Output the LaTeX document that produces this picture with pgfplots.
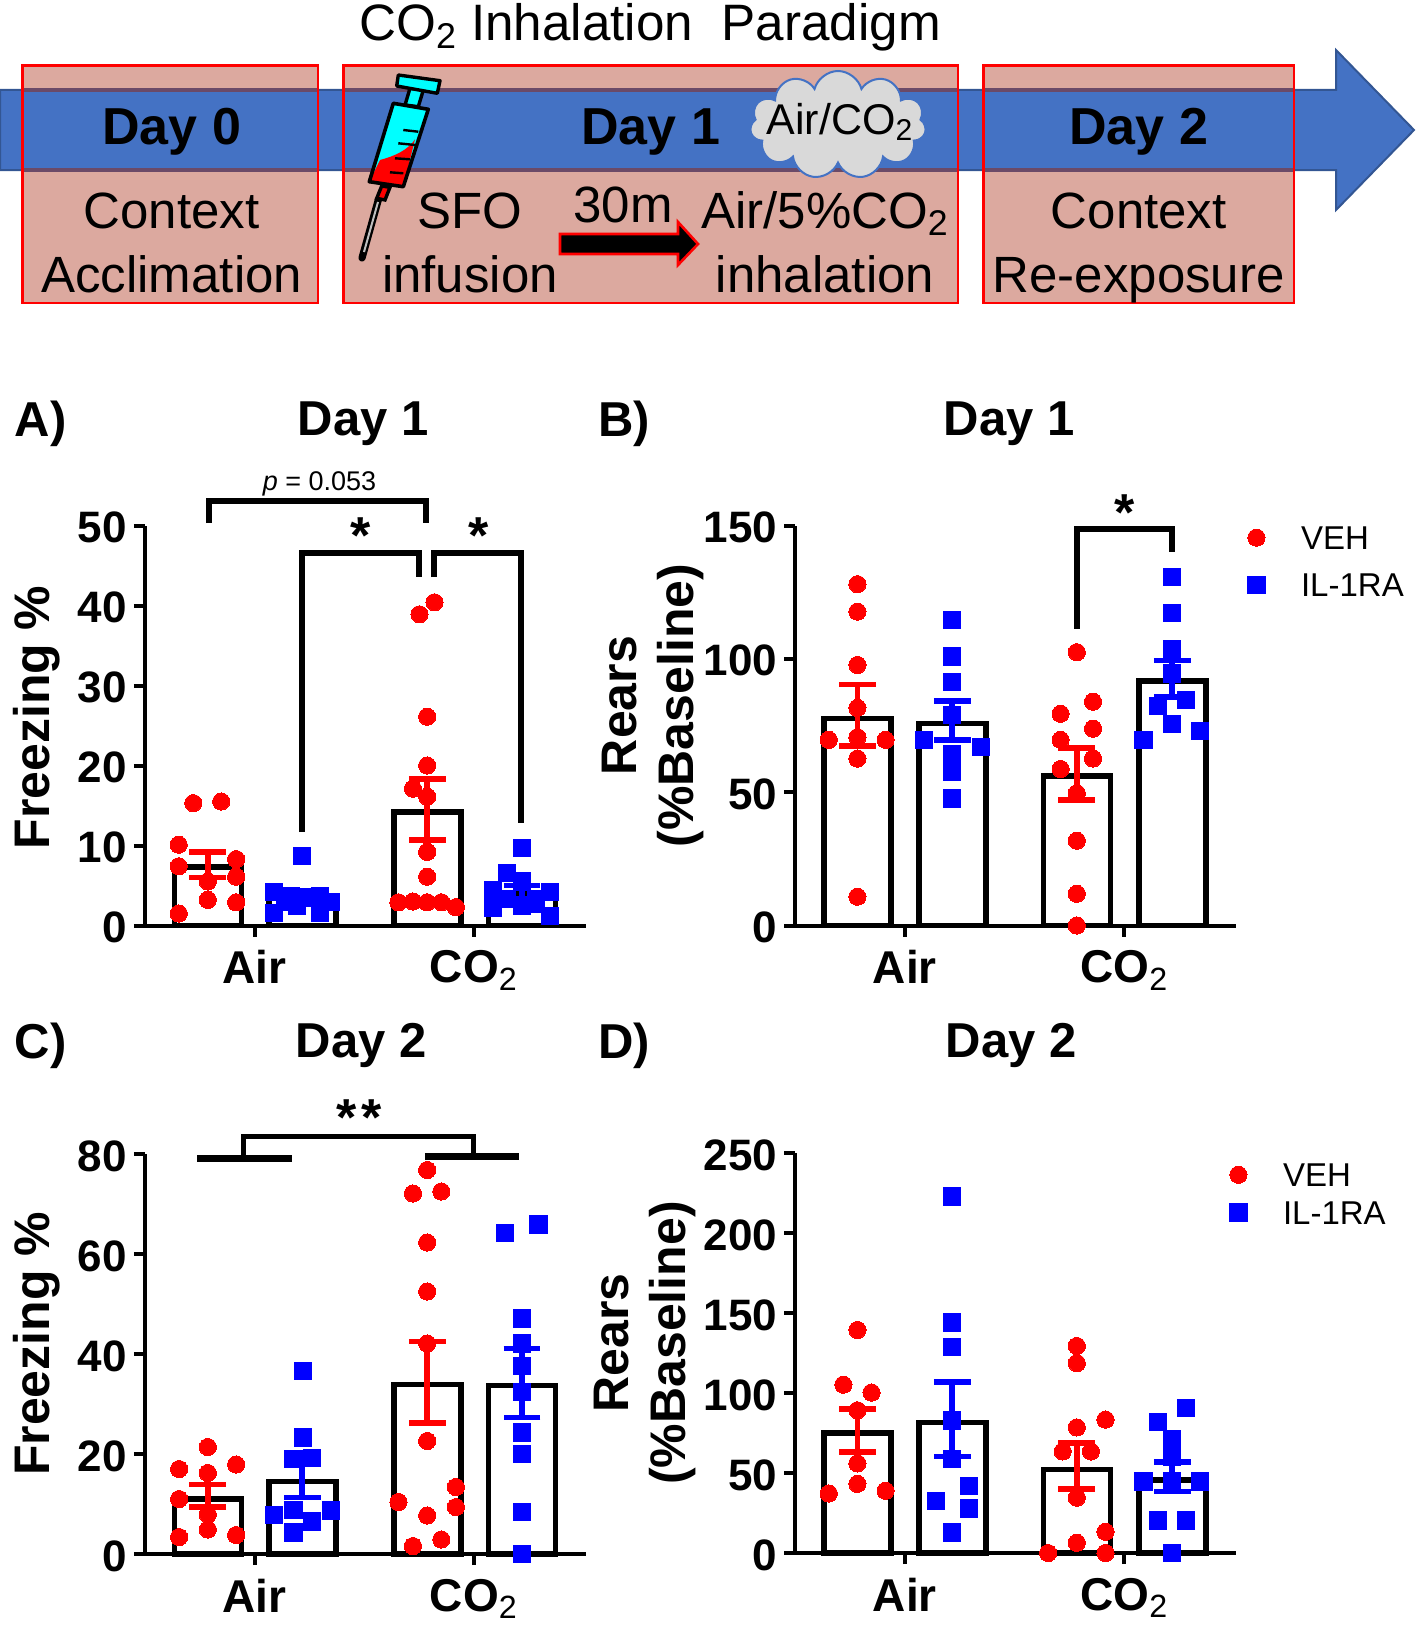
\documentclass[border=0pt]{standalone}
\usepackage{fontspec}
\setmainfont{Liberation Sans}
\usepackage{pgfplots}
\pgfplotsset{compat=1.18}
\usetikzlibrary{shapes.symbols}
\newcommand{\fs}[1]{\fontsize{#1}{#1}\selectfont}
\definecolor{band}{HTML}{4472C4}
\definecolor{pinkbox}{HTML}{DCA99F}
\definecolor{bandedge}{HTML}{6B4A68}
\definecolor{aqua}{HTML}{00FFFF}

\pgfplotsset{
  panel/.style={
    scale only axis, clip=false,
    width=220.3pt, height=200pt,
    anchor=south west,
    axis lines=left,
    axis line style={-, line width=2pt},
    tick style={black, line width=2pt},
    major tick length=5.5pt, tick align=outside,
    ymin=0,
    /pgf/number format/assume math mode=true,
    yticklabel style={font=\fs{22}\bfseries, yshift=-1pt},
    xticklabel style={font=\fs{23}\bfseries, yshift=-3.5pt},
    xtick={#1},
    xticklabels={Air,CO\textsubscript{\normalfont 2}},
    ylabel style={font=\fontsize{25}{28.5}\selectfont\bfseries, align=center, anchor=center},
  },
  bars/.style={ybar, bar width=33.5pt, bar shift=0pt, draw=black, fill=none, line width=2.8pt, forget plot},
  veh/.style={only marks, mark=*, mark size=4.3pt, red, mark options={fill=red, draw=red, line width=0pt}},
  il/.style={only marks, mark=square*, mark size=4.3pt, blue, mark options={fill=blue, draw=blue, line width=0pt}},
  errb/.style={draw=none, mark=none, forget plot, error bars/.cd, y dir=both, y explicit,
    error bar style={#1, line width=2.9pt},
    error mark options={#1, line width=2.9pt, mark size=9.2pt, rotate=90}},
  rightleg/.style={legend cell align=left, legend style={at={#1}, anchor=north west, draw=none, fill=none, inner sep=0pt,
    font=\fs{16.5}, nodes={inner sep=0pt, text height=11.7pt, text depth=0pt}}},
}

\begin{document}
\begin{tikzpicture}

% ---- schematic on top, coordinates in reference pixels
\begin{scope}[x=0.5pt, y=-0.5pt]
\path[use as bounding box] (0,0) rectangle (1417,1627);
\node[font=\fs{25.6}, anchor=base] at (650,41) {CO\textsubscript{2} Inhalation\ \ Paradigm};

\fill[pinkbox] (22.6,65.7) rectangle (318,303);
\fill[pinkbox] (343.4,65.7) rectangle (958,303);
\fill[pinkbox] (983.3,65.7) rectangle (1294,303);
\draw[fill=band, draw=band!75!black, line width=1pt]
  (0,90) -- (1336,90) -- (1336,50) -- (1414,130) -- (1336,210) -- (1336,170) -- (0,170) -- cycle;
\foreach \a/\b in {22.6/318, 343.4/958, 983.3/1294} {
  \draw[bandedge, line width=1.6pt] (\a,90) -- (\b,90) (\a,170) -- (\b,170);
  \draw[red, line width=1.4pt] (\a,65.7) rectangle (\b,303);
}

% syringe
\draw[black, line width=3.6pt, line cap=round] (378.3,200) -- (362,258);
\draw[black!25, line width=1pt] (378,202) -- (364,252);
\draw[black, line width=1.7pt, fill=red] (381.7,186) -- (390,187.3) -- (385,200) -- (376.7,198.3) -- cycle;
\draw[black, line width=1.7pt, fill=aqua] (410,88.3) -- (423.3,90) -- (418.3,106.7) -- (405,105) -- cycle;
\fill[aqua] (393.3,103.3) -- (428.3,109.3) -- (403.3,186.7) -- (369.3,181.7) -- cycle;
\fill[red] (415,139.3) -- (403.3,186.7) -- (369.3,181.7) -- (380,160) .. controls (395,156) and (408,150) .. cycle;
\draw[black, line width=1.8pt, line join=round] (393.3,103.3) -- (428.3,109.3) -- (403.3,186.7) -- (369.3,181.7) -- cycle;
\draw[black, line width=1.7pt, fill=aqua, line join=round] (398.3,75) -- (440,80.7) -- (437.3,93.3) -- (396.7,86) -- cycle;
\draw[black, line width=1.2pt] (403.3,130) -- (418.3,131.7) (398.3,143.3) -- (415,145) (395,158.3) -- (410,159.3) (390,172.3) -- (403.3,173.3);

% cloud and small arrow
\node[cloud, cloud puffs=11, aspect=1.6, draw=band, fill=black!15, line width=1pt,
  minimum width=88pt, minimum height=54pt, inner sep=0pt] at (838,125) {};
\node[font=\fs{21.5}] at (840,122) {Air/CO\textsubscript{2}};
\draw[fill=black, draw=red, line width=1.3pt]
  (560,234) -- (678,234) -- (678,222) -- (698,244) -- (678,265) -- (678,254) -- (560,254) -- cycle;

\node[font=\fs{26}\bfseries, anchor=base] at (171.7,145) {Day 0};
\node[font=\fs{26}\bfseries, anchor=base] at (650.7,145) {Day 1};
\node[font=\fs{26}\bfseries, anchor=base] at (1138.7,145) {Day 2};
\foreach \cx/\la/\lb in {171.7/Context/Acclimation, 470/SFO/infusion, 1138.7/Context/Re-exposure} {
  \node[font=\fs{25.5}, anchor=base] at (\cx,228) {\la};
  \node[font=\fs{25.5}, anchor=base] at (\cx,292) {\lb};
}
\node[font=\fs{25.5}, anchor=base] at (825,228) {Air/5\%CO\textsubscript{2}};
\node[font=\fs{25.5}, anchor=base] at (825,292) {inhalation};
\node[font=\fs{25.5}, anchor=base] at (623,222) {30m};

% panel headings
\node[font=\fs{24.5}\bfseries, anchor=base] at (363,435) {Day 1};
\node[font=\fs{24.5}\bfseries, anchor=base] at (1009,435) {Day 1};
\node[font=\fs{24.5}\bfseries, anchor=base] at (361,1057) {Day 2};
\node[font=\fs{24.5}\bfseries, anchor=base] at (1011,1057) {Day 2};
\node[font=\fs{24.5}\bfseries, anchor=base west, inner sep=0pt] at (14.5,436) {A)};
\node[font=\fs{24.5}\bfseries, anchor=base west, inner sep=0pt] at (598,436) {B)};
\node[font=\fs{24.5}\bfseries, anchor=base west, inner sep=0pt] at (14.5,1058) {C)};
\node[font=\fs{24.5}\bfseries, anchor=base west, inner sep=0pt] at (598,1058) {D)};
\end{scope}

% ---- A
\begin{axis}[panel={254.5,473.8}, at={(72.5pt,-462.75pt)},
  xmin=145, xmax=585.5, ymax=50, ytick={0,10,...,50},
  ylabel={Freezing \%}, ylabel style={at={(axis description cs:-0.246,0.52)}}]
\addplot[bars] coordinates {(207.8,7.3) (302.3,3.4) (427.3,14.2) (522,4.0)};
\addplot[veh] coordinates {(193.3,15.3) (221.2,15.5) (178.7,10.1) (178.7,7.4) (236.1,8.3) (236.1,6.1) (207.8,5.5) (207.8,3.2) (236.1,2.9) (178.7,1.5)
  (434.4,40.4) (419.4,38.9) (427.1,26.1) (427.1,20) (412.9,17.1) (427.1,16.1) (427.1,9.2) (427.1,6.1) (398.4,2.9) (412.9,3.0) (427.1,2.9) (441.3,2.9) (455.8,2.3)};
\addplot[il] coordinates {(302.3,8.7) (274,4.2) (274,1.6) (285.1,2.9) (296.6,2.5) (308.1,3.5) (319.6,3.7) (319.6,1.6) (331,2.9) (290.9,3.7)
  (522,9.7) (507.1,6.6) (522,5.5) (492.9,4.4) (492.9,2.2) (492.9,3.3) (507.1,3.3) (522,2.5) (535.8,3.3) (550.3,4.2) (550.3,1.2) (535.8,2.7)};
\addplot[errb=red] coordinates {(207.8,7.6) +=(0,1.6) -=(0,1.6) (427.3,14.5) +=(0,3.8) -=(0,3.8)};
\addplot[errb=blue] coordinates {(302.3,3.4) +=(0,0.5) -=(0,0.5) (522,4.0) +=(0,1.0) -=(0,0.9)};
\end{axis}

% ---- B
\begin{axis}[panel={904.8,1124.2}, at={(397.7pt,-462.75pt)},
  xmin=795.4, xmax=1236, ymax=150, ytick={0,50,100,150},
  ylabel={Rears\\(\%Baseline)}, ylabel style={at={(axis description cs:-0.324,0.55)}},
  rightleg={(1.026,1.0)}, legend style={row sep=11.8pt}]
\addplot[bars] coordinates {(857.4,77.7) (952.3,75.8) (1076.8,56) (1172.2,91.6)};
\addplot[veh] coordinates {(857.4,128) (857.4,117.7) (857.4,97.7) (857.4,81.6) (828.8,69.6) (857.4,70.6) (885.6,69.6) (857.4,62.6) (857.4,10.8)
  (1076.8,102.5) (1093,83.9) (1060.6,79.4) (1093,73.8) (1060.6,69.6) (1093,62.6) (1060.6,58.7) (1076.8,49.6) (1076.8,31.8) (1076.8,11.9) (1076.8,0)};
\addlegendentry{\hspace{18pt}VEH}
\addplot[il] coordinates {(952.3,114.5) (952.3,100.9) (952.3,91.3) (952.3,79) (924.1,69.6) (980.9,67) (952.3,64.2) (952.3,57.7) (952.3,47.6)
  (1172.2,130.6) (1172.2,117.1) (1172.2,103.5) (1172.2,94.5) (1186.2,84.5) (1158.1,82.2) (1172.2,75.5) (1200.3,72.9) (1143.5,69.6)};
\addlegendentry{\hspace{18pt}IL-1RA}
\addplot[errb=red] coordinates {(857.4,78.9) +=(0,11.5) -=(0,11.5) (1076.8,57) +=(0,9.7) -=(0,9.8)};
\addplot[errb=blue] coordinates {(952.3,77) +=(0,7.2) -=(0,7.3) (1172.2,92.6) +=(0,6.8) -=(0,6.8)};
\end{axis}

% ---- C
\begin{axis}[panel={254.5,473.8}, at={(72.5pt,-777pt)},
  xmin=145, xmax=585.5, ymax=80, ytick={0,20,...,80},
  ylabel={Freezing \%}, ylabel style={at={(axis description cs:-0.246,0.525)}}]
\addplot[bars] coordinates {(207.8,11) (302.3,14.5) (427.3,33.9) (522,33.7)};
\addplot[veh] coordinates {(207.8,21.4) (179.1,17) (236.1,17.9) (207.8,16.2) (179.1,11) (207.8,7.9) (207.8,4.9) (179.1,3.4) (236.1,3.8)
  (427.1,76.8) (412.9,72.1) (441.3,72.5) (427.1,62.3) (427.1,52.5) (427.1,42.1) (427.1,22.6) (455.8,13.4) (398.4,10.4) (455.8,9.4) (427.1,7.7) (441.3,2.9) (412.9,1.6)};
\addplot[il] coordinates {(302.7,36.6) (302.7,23.3) (293.5,19) (311.9,19.2) (293.5,8.8) (274,7.8) (331,8.7) (311.9,6.5) (293.5,4.3)
  (538.5,65.9) (505.2,64.2) (522,47.1) (522,42.1) (522,37.6) (522,32.4) (522,24.3) (522,20) (522,8.4) (522,0)};
\addplot[errb=red] coordinates {(207.8,11.6) +=(0,2.3) -=(0,2.2) (427.3,34.3) +=(0,8.2) -=(0,8.1)};
\addplot[errb=blue] coordinates {(302.3,14.6) +=(0,3.4) -=(0,3.3) (522,34.2) +=(0,6.9) -=(0,6.9)};
\end{axis}

% ---- D
\begin{axis}[panel={904.8,1124.2}, at={(397.7pt,-776.5pt)},
  xmin=795.4, xmax=1236, ymax=250, ytick={0,50,...,250},
  ylabel={Rears\\(\%Baseline)}, ylabel style={at={(axis description cs:-0.341,0.525)}},
  rightleg={(0.985,0.976)}, legend style={row sep=7.2pt}]
\addplot[bars] coordinates {(857.4,74.9) (952.3,81.7) (1076.8,52.2) (1172.2,45.8)};
\addplot[veh] coordinates {(857.4,139.4) (843.4,105.2) (871.5,100.3) (857.4,89.2) (857.4,56) (857.4,43.2) (885.6,38.9) (828.8,37.2)
  (1076.8,129.4) (1076.8,118.7) (1105.5,83.4) (1076.8,78.5) (1062.7,63.5) (1090.9,63.5) (1076.8,34.6) (1105.5,13.3) (1076.8,6.4) (1048.1,0) (1105.5,0)};
\addlegendentry{\hspace{18pt}VEH}
\addplot[il] coordinates {(952.3,222.8) (952.3,144.1) (952.3,128.7) (952.3,82.8) (952.3,58.6) (968.9,42.1) (936.1,32.5) (968.9,27.8) (952.3,12.8)
  (1186.2,90.7) (1158.1,82.1) (1172.2,71) (1172.2,60.3) (1143.5,44.7) (1172.2,44.7) (1200.3,44.7) (1158.1,20.3) (1186.2,20.3) (1172.2,0)};
\addlegendentry{\hspace{18pt}IL-1RA}
\addplot[errb=red] coordinates {(857.4,76.4) +=(0,13.4) -=(0,13.5) (1076.8,54.5) +=(0,14.4) -=(0,14.5)};
\addplot[errb=blue] coordinates {(952.3,83.5) +=(0,23.2) -=(0,23.2) (1172.2,47.6) +=(0,9.1) -=(0,9.1)};
\end{axis}

% ---- significance brackets, reference pixels again
\begin{scope}[x=0.5pt, y=-0.5pt, line cap=butt, line join=miter]
\draw[line width=3pt] (208.6,523) -- (208.6,501.3) -- (426,501.3) -- (426,523);
\draw[line width=3pt] (302.3,832) -- (302.3,553) -- (418.7,553) -- (418.7,577);
\draw[line width=3pt] (434.4,577) -- (434.4,553) -- (521.2,553) -- (521.2,823);
\node[font=\fs{13.5}] at (319.6,484) {\textit{p} = 0.053};
\node[font=\fs{26}\bfseries] at (360.9,536) {*};
\node[font=\fs{26}\bfseries] at (478.4,536) {*};
\draw[line width=3pt] (1076.8,628.7) -- (1076.8,528.9) -- (1172.2,528.9) -- (1172.2,552.3);
\node[font=\fs{26}\bfseries] at (1124.2,513) {*};
\draw[line width=3.2pt] (197,1158.5) -- (291.6,1158.5);
\draw[line width=3.2pt] (424.8,1156.4) -- (519.3,1156.4);
\draw[line width=2.5pt] (243.8,1157) -- (243.8,1136) -- (473.8,1136) -- (473.8,1156);
\node[font=\fs{26}\bfseries] at (359,1118) {*\kern2.5pt*};
\end{scope}

\end{tikzpicture}
\end{document}
